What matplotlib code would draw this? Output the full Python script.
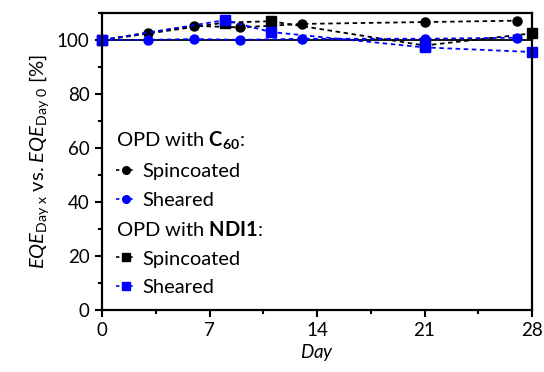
import matplotlib.pyplot as plt
from matplotlib.lines import Line2D
from matplotlib.ticker import MultipleLocator

plt.rcParams['font.family'] = ['Lato', 'DejaVu Sans']
plt.rcParams['mathtext.fontset'] = 'custom'
plt.rcParams['mathtext.rm'] = 'Lato'
plt.rcParams['mathtext.it'] = 'Lato:italic'
plt.rcParams['mathtext.bf'] = 'Lato:bold'

# C60 devices
days_c60 = [0, 3, 6, 9, 13, 21, 27]
c60_spin = [100, 102.8, 105.3, 104.7, 106.0, 106.7, 107.2]
c60_shear = [100, 100.1, 100.4, 100.1, 100.5, 100.5, 100.9]
# NDI1 devices
days_ndi = [0, 8, 11, 21, 28]
ndi_spin = [100, 106.5, 107.0, 98.0, 102.5]
ndi_shear = [100, 107.4, 103.0, 97.3, 95.6]

fig = plt.figure(figsize=(5.44, 3.72), dpi=100)
ax = fig.add_axes([0.1875, 0.1667, 0.7905, 0.798])

ax.axhline(100, color='black', lw=1.3, zorder=1)

dash = (2.5, 2)
kw = dict(lw=1.3, dashes=dash, clip_on=False)
ax.plot(days_ndi, ndi_spin, color='black', marker='s', ms=6.5, **kw)
ax.plot(days_c60, c60_spin, color='black', marker='o', ms=6.5, **kw)
ax.plot(days_c60, c60_shear, color='#0000ff', marker='o', ms=6.5, **kw)
ax.plot(days_ndi, ndi_shear, color='#0000ff', marker='s', ms=6.5, **kw)

ax.set_xlim(0, 28)
ax.set_ylim(0, 110)
ax.xaxis.set_major_locator(MultipleLocator(7))
ax.xaxis.set_minor_locator(MultipleLocator(3.5))
ax.yaxis.set_major_locator(MultipleLocator(20))
ax.yaxis.set_minor_locator(MultipleLocator(10))
ax.tick_params(which='major', direction='out', length=5, width=1.5, labelsize=13.5, pad=4)
ax.tick_params(which='minor', direction='out', length=3, width=1.5)
for s in ax.spines.values():
    s.set_linewidth(1.6)

ax.set_xlabel('$Day$', fontsize=13.5, labelpad=2)
ax.set_ylabel(r'$EQE_{\mathrm{Day\ x}}$ vs. $EQE_{\mathrm{Day\ 0}}$ [%]', fontsize=14.5, labelpad=4)

blank = Line2D([], [], color='none')
h = [blank,
     Line2D([], [], color='black', marker='o', ms=5.5, lw=1.2, dashes=(2, 2)),
     Line2D([], [], color='#0000ff', marker='o', ms=5.5, lw=1.2, dashes=(2, 2)),
     blank,
     Line2D([], [], color='black', marker='s', ms=5.5, lw=1.2, dashes=(2, 2)),
     Line2D([], [], color='#0000ff', marker='s', ms=5.5, lw=1.2, dashes=(2, 2))]
labels = [r'OPD with $\mathbf{C_{60}}$:', 'Spincoated', 'Sheared',
          r'OPD with $\mathbf{NDI1}$:', 'Spincoated', 'Sheared']
leg = ax.legend(h, labels, loc='lower left', bbox_to_anchor=(0.0, 0.0), frameon=False,
                fontsize=14.5, handlelength=1.0, handletextpad=0.3, labelspacing=0.56,
                borderaxespad=0.4, borderpad=0.3)
# shift group titles left so they start where the handles start
for i in (0, 3):
    leg.get_texts()[i].set_position((-26, 0))

fig.savefig('out.png', dpi=100)
